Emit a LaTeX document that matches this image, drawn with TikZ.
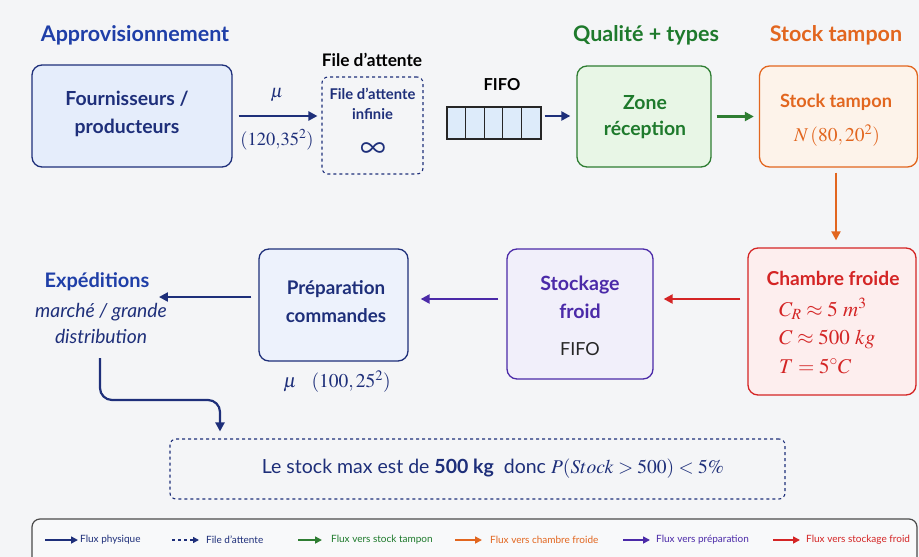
\documentclass[tikz,border=0pt]{standalone}
\usepackage{mathptmx}
\usepackage[no-math]{fontspec}
\setmainfont{Lato}
\usetikzlibrary{arrows.meta,calc}

\definecolor{bgc}{HTML}{F4F5F7}
\definecolor{navy}{HTML}{1E2F7A}
\definecolor{blueh}{HTML}{1F3FA8}
\definecolor{bluel}{HTML}{E5EDFB}
\definecolor{greenh}{HTML}{1E7A2C}
\definecolor{greenb}{HTML}{2E7D32}
\definecolor{greenl}{HTML}{E8F6E6}
\definecolor{orangeh}{HTML}{E2661F}
\definecolor{orangel}{HTML}{FDF3EA}
\definecolor{redh}{HTML}{D42525}
\definecolor{redl}{HTML}{FDEEEE}
\definecolor{purpleh}{HTML}{4B2AA8}
\definecolor{purplel}{HTML}{F1EFFA}
\definecolor{cellc}{HTML}{DDEBFA}
\definecolor{greyb}{HTML}{4A4A4A}

\begin{document}
\begin{tikzpicture}[x=1pt,y=-1pt,
  box/.style={draw, rounded corners=10pt, line width=1.3pt, inner sep=0pt},
  flow/.style={line width=2.2pt, -{Triangle[length=9pt,width=9pt]}},
  legarrow/.style={line width=1.6pt, -{Triangle[length=7pt,width=7pt]}},
  hd/.style={font=\bfseries\fontsize{21.5}{26}\selectfont},
  bt/.style={font=\bfseries\fontsize{19.4}{28}\selectfont, align=center},
  mth/.style={font=\fontsize{18.5}{22}\selectfont},
  leg/.style={font=\fontsize{10}{12}\selectfont, anchor=west, inner sep=0pt}
]
\clip (0,0) rectangle (919,557);
\fill[bgc] (0,0) rectangle (919,557);

% ---- section headers
\node[hd, text=blueh] (hApp) at (135,35) {Approvisionnement};
\node[hd, text=greenh] (hQual) at (646,35) {Qualité + types};
\node[hd, text=orangeh] (hStock) at (836,35) {Stock tampon};
\node[font=\bfseries\fontsize{17.3}{20}\selectfont] (hFile) at (372,60) {File d’attente};
\node[font=\bfseries\fontsize{16.5}{20}\selectfont] (hFifo) at (502,85) {FIFO};

% ---- top row
\node[box, draw=navy, fill=bluel, minimum width=200pt, minimum height=102pt] (four) at (132,116) {};
\node[bt, text=navy] (fourT) at (127,114) {Fournisseurs /\\producteurs};

\node[draw=navy, dashed, line width=1.1pt, rounded corners=6pt, minimum width=101pt, minimum height=97pt] (queue) at (372.5,125.5) {};
\node[font=\bfseries\fontsize{14.8}{20}\selectfont, text=navy, align=center, inner sep=0pt] (queueT) at (372.5,104) {File d’attente\\infinie};
\node[font=\fontsize{36}{36}\selectfont, text=navy, inner sep=0pt] (inf) at (373,150) {$\infty$};

\node[mth, text=navy] (mu1) at (277,95) {$\mu$};
\node[mth, text=navy] (par1) at (277,140) {$(120{,}35^2)$};

\node[draw=black!85, fill=cellc, line width=1.1pt, minimum width=94pt, minimum height=32pt, inner sep=0pt] (fifo) at (494,123) {};
\foreach \i in {1,...,4}
  \draw[black!85, line width=1.1pt] ($(fifo.north west)+(\i*18.8,0)$) -- ($(fifo.south west)+(\i*18.8,0)$);

\node[box, draw=greenb, fill=greenl, minimum width=134pt, minimum height=101pt] (zone) at (644,116.5) {};
\node[bt, text=greenh, font=\bfseries\fontsize{19.4}{26}\selectfont] (zoneT) at (645,117) {Zone\\réception};

\node[box, draw=orangeh, fill=orangel, minimum width=158pt, minimum height=101pt] (tampon) at (838.5,116.5) {};
\node[font=\bfseries\fontsize{18.2}{22}\selectfont, text=orangeh] (tamponT) at (836,102) {Stock tampon};
\node[font=\fontsize{19.5}{22}\selectfont, text=orangeh] (tamponN) at (837,136) {$N\,(80,20^2)$};

% ---- bottom row
\node[box, draw=redh, fill=redl, minimum width=168pt, minimum height=147pt] (chambre) at (832,321.5) {};
\node[font=\bfseries\fontsize{19.2}{22}\selectfont, text=redh] (chambreT) at (833,278) {Chambre froide};
\node[font=\fontsize{21}{24}\selectfont, text=redh, anchor=base west, inner sep=0pt] (cr) at (779,316) {$C_R\approx 5\ m^3$};
\node[font=\fontsize{21}{24}\selectfont, text=redh, anchor=base west, inner sep=0pt] (cc) at (779,344) {$C\approx 500\ kg$};
\node[font=\fontsize{21}{24}\selectfont, text=redh, anchor=base west, inner sep=0pt] (ct) at (779,373) {$T=5^\circ C$};

\node[box, draw=purpleh, fill=purplel, minimum width=146pt, minimum height=130pt] (stockage) at (580,314) {};
\node[bt, text=purpleh, font=\bfseries\fontsize{19.6}{28}\selectfont] (stockageT) at (580,297) {Stockage\\froid};
\node[font=\fontsize{18}{22}\selectfont, text=black!85] (stockageF) at (580,349) {FIFO};

\node[box, draw=navy, fill=bluel!70, minimum width=149pt, minimum height=112pt] (prep) at (333.5,305) {};
\node[bt, text=navy, font=\bfseries\fontsize{18.8}{28}\selectfont] (prepT) at (336,302) {Préparation\\commandes};
\node[font=\fontsize{19.5}{22}\selectfont, text=navy] (mu2) at (337,382) {$\mu\ \ \ (100,25^2)$};

\node[font=\bfseries\fontsize{20}{24}\selectfont, text=blueh] (exp) at (97,282) {Expéditions};
\node[font=\itshape\fontsize{19.3}{26}\selectfont, text=navy, align=center] (expT) at (101,323) {marché / grande\\distribution};

\node[draw=navy, dashed, line width=1.1pt, rounded corners=6pt, minimum width=615pt, minimum height=60pt] (bilan) at (477.5,469) {};
\node[font=\fontsize{19.5}{24}\selectfont, text=navy] (bilanT) at (493,469) {Le stock max est de \textbf{500 kg}\ \ donc $P(Stock>500)<5\%$};

% ---- connectors
\draw[flow, navy] ([xshift=6pt]four.east) -- ([xshift=-4pt]queue.west |- four.east);
\draw[flow, navy] ([xshift=3pt]fifo.east |- 0,116) -- ([xshift=-6pt]zone.west |- 0,116);
\draw[flow, greenb] ([xshift=5pt]zone.east) -- ([xshift=-5pt]tampon.west |- zone.east);
\draw[orangeh, line width=2pt, -{Triangle[length=9pt,width=9pt]}] ([yshift=-5pt]836,0 |- tampon.south) -- ([yshift=7pt]836,0 |- chambre.north);
\draw[flow, redh] ([xshift=-7pt]chambre.west |- 0,299) -- ([xshift=10pt]stockage.east |- 0,299);
\draw[flow, purpleh] ([xshift=-8pt]stockage.west |- 0,299) -- ([xshift=12pt]prep.east |- 0,299);
\draw[flow, navy] ([xshift=-7pt]prep.west |- 0,297) -- ([xshift=6pt]exp.east |- 0,297);
\coordinate (expOut) at (100,358);
\draw[navy, line width=2.2pt, rounded corners=12pt, -{Triangle[length=9pt,width=9pt]}]
  (expOut) -- (100,400) -- (220,400) -- ([yshift=7pt]220,0 |- bilan.north);

% ---- legend
\node[draw=greyb, line width=1.2pt, rounded corners=8pt, minimum width=885pt, minimum height=50pt, fill=bgc!60!white] (legend) at (474.5,544) {};
\draw[legarrow, navy] (45,540) -- (78,540);
\node[leg, text=navy] (l1t) at (80,540) {Flux physique};
\draw[legarrow, navy, dashed, -{Triangle[length=6pt,width=6pt]}] (172,540) -- (199,540);
\node[leg, text=navy] (l2t) at (206,540) {File d’attente};
\draw[legarrow, greenb] (298,540) -- (322,540);
\node[leg, text=greenh] (l3t) at (331,540) {Flux vers stock tampon};
\draw[legarrow, orangeh] (455,540) -- (482,540);
\node[leg, text=orangeh] (l4t) at (490,540) {Flux vers chambre froide};
\draw[legarrow, purpleh] (623,540) -- (650,540);
\node[leg, text=purpleh] (l5t) at (656,540) {Flux vers préparation};
\draw[legarrow, redh] (773,540) -- (800,540);
\node[leg, text=redh] (l6t) at (806,540) {Flux vers stockage froid};
\end{tikzpicture}
\end{document}
